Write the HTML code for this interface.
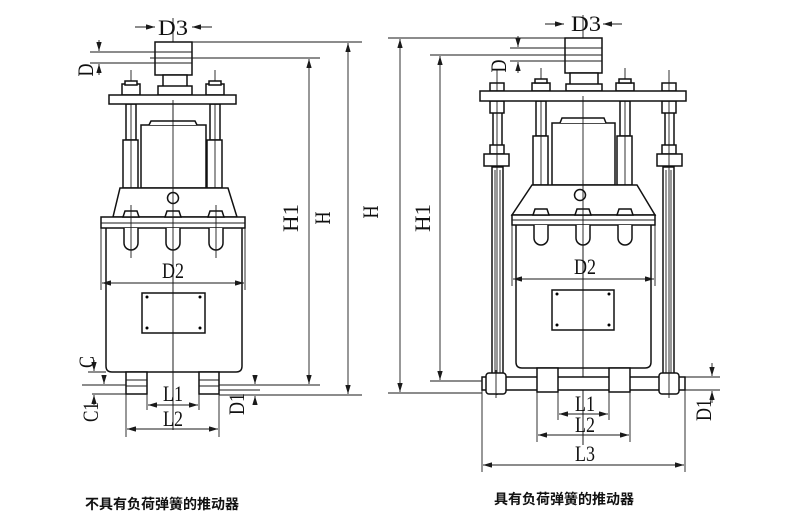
<!DOCTYPE html>
<html><head><meta charset="utf-8"><style>
html,body{margin:0;padding:0;background:#fff;width:790px;height:521px;overflow:hidden}
svg{display:block}
.l{stroke:#111;stroke-width:1.5;fill:none}
.t{stroke:#1a1a1a;stroke-width:0.9;fill:none}
.w{stroke:#111;stroke-width:1.5;fill:#fff}
.tx{font-family:"Liberation Serif",serif;font-size:22px;fill:#111}
.cap{font-family:"Liberation Sans","Noto Sans CJK SC",sans-serif;font-size:14px;fill:#111;font-weight:bold}
</style></head><body>
<svg width="790" height="521" viewBox="0 0 790 521" xmlns="http://www.w3.org/2000/svg">
<defs><marker id="a" viewBox="0 0 10 6" refX="10" refY="3" markerWidth="10" markerHeight="6" orient="auto-start-reverse"><path d="M0,0L10,3L0,6z" fill="#1a1a1a"/></marker></defs>

<!-- LEFT FIGURE -->
<g>
<line class="t" x1="173" y1="18" x2="173" y2="430"/>
<line class="t" x1="135" y1="27" x2="155" y2="27" marker-end="url(#a)"/>
<line class="t" x1="212" y1="27" x2="192" y2="27" marker-end="url(#a)"/>
<text class="tx" x="173" y="35" text-anchor="middle" textLength="30" lengthAdjust="spacingAndGlyphs">D3</text>
<rect class="w" x="155" y="42" width="37" height="33"/>
<line class="t" x1="155" y1="52" x2="192" y2="52"/><line class="t" x1="155" y1="58" x2="192" y2="58"/><line class="t" x1="155" y1="63" x2="192" y2="63"/>
<rect class="w" x="163" y="75" width="24" height="13"/>
<rect class="w" x="158" y="86" width="34" height="9"/>
<rect class="w" x="126" y="104" width="10" height="36"/><rect class="w" x="123" y="140" width="15" height="48"/>
<rect class="w" x="210" y="104" width="10" height="36"/><rect class="w" x="207" y="140" width="15" height="48"/>
<line class="t" x1="131" y1="70" x2="131" y2="200"/><line class="t" x1="215" y1="70" x2="215" y2="200"/>
<rect class="w" x="122" y="84" width="18" height="11"/><rect class="w" x="125" y="81" width="12" height="4"/>
<rect class="w" x="206" y="84" width="18" height="11"/><rect class="w" x="209" y="81" width="12" height="4"/>
<rect class="w" x="109" y="95" width="127" height="9"/>
<rect class="w" x="141" y="125" width="65" height="63"/>
<path class="w" d="M149,125 L151,121 L195,121 L197,125"/>
<line class="t" x1="173" y1="100" x2="173" y2="200"/>
<path class="w" d="M120,188 L228,188 L237,217 L113,217 Z"/>
<circle class="w" cx="173" cy="198" r="5.5"/>
<rect class="w" x="101" y="217" width="144" height="11"/>
<line class="t" x1="101" y1="223" x2="245" y2="223"/>
<g class="w">
<path d="M123,217 L125,211 L137,211 L139,217 Z"/><path d="M165,217 L167,211 L179,211 L181,217 Z"/><path d="M208,217 L210,211 L222,211 L224,217 Z"/>
<path d="M124,228 L124,243 A7,7 0 0 0 138,243 L138,228"/><path d="M166,228 L166,243 A7,7 0 0 0 180,243 L180,228"/><path d="M209,228 L209,243 A7,7 0 0 0 223,243 L223,228"/>
</g>
<line class="t" x1="131" y1="205" x2="131" y2="258"/><line class="t" x1="216" y1="205" x2="216" y2="258"/>
<path class="l" d="M106,228 L106,366 Q106,372 112,372 L236,372 Q242,372 242,366 L242,228"/>
<line class="t" x1="173" y1="180" x2="173" y2="430"/>
<line class="t" x1="101" y1="228" x2="101" y2="290"/><line class="t" x1="245" y1="228" x2="245" y2="290"/>
<line class="t" x1="173" y1="283" x2="102" y2="283" marker-end="url(#a)"/><line class="t" x1="173" y1="283" x2="244" y2="283" marker-end="url(#a)"/>
<text class="tx" x="173" y="278" text-anchor="middle" textLength="22" lengthAdjust="spacingAndGlyphs">D2</text>
<rect class="l" x="142" y="293" width="63" height="40"/>
<circle cx="147" cy="297" r="1.5"/><circle cx="200" cy="297" r="1.5"/><circle cx="147" cy="328" r="1.5"/><circle cx="200" cy="328" r="1.5"/>
<rect class="w" x="126" y="372" width="21" height="22"/><rect class="w" x="199" y="372" width="20" height="22"/>
<line class="t" x1="126" y1="380" x2="147" y2="380"/><line class="t" x1="126" y1="386" x2="147" y2="386"/>
<line class="t" x1="199" y1="380" x2="219" y2="380"/><line class="t" x1="199" y1="386" x2="219" y2="386"/>
<line class="t" x1="147" y1="394" x2="147" y2="410"/><line class="t" x1="199" y1="394" x2="199" y2="410"/>
<line class="t" x1="126" y1="394" x2="126" y2="437"/><line class="t" x1="219" y1="394" x2="219" y2="437"/>
<line class="t" x1="173" y1="405" x2="148" y2="405" marker-end="url(#a)"/><line class="t" x1="173" y1="405" x2="198" y2="405" marker-end="url(#a)"/>
<line class="t" x1="173" y1="429" x2="127" y2="429" marker-end="url(#a)"/><line class="t" x1="173" y1="429" x2="218" y2="429" marker-end="url(#a)"/>
<text class="tx" x="173" y="401" text-anchor="middle" textLength="20" lengthAdjust="spacingAndGlyphs">L1</text>
<text class="tx" x="173" y="426" text-anchor="middle" textLength="20" lengthAdjust="spacingAndGlyphs">L2</text>
<line class="t" x1="192" y1="42" x2="362" y2="42"/><line class="t" x1="150" y1="58" x2="320" y2="58"/>
<line class="t" x1="219" y1="385" x2="320" y2="385"/><line class="t" x1="219" y1="395" x2="362" y2="395"/>
<line class="t" x1="309" y1="220" x2="309" y2="59" marker-end="url(#a)"/><line class="t" x1="309" y1="220" x2="309" y2="384" marker-end="url(#a)"/>
<line class="t" x1="348" y1="220" x2="348" y2="43" marker-end="url(#a)"/><line class="t" x1="348" y1="220" x2="348" y2="394" marker-end="url(#a)"/>
<text class="tx" transform="translate(298,218) rotate(-90)" text-anchor="middle" textLength="28" lengthAdjust="spacingAndGlyphs">H1</text>
<text class="tx" transform="translate(330,218) rotate(-90)" text-anchor="middle" textLength="13" lengthAdjust="spacingAndGlyphs">H</text>
<text class="tx" transform="translate(378,212) rotate(-90)" text-anchor="middle" textLength="13" lengthAdjust="spacingAndGlyphs">H</text>
<line class="t" x1="90" y1="52" x2="155" y2="52"/><line class="t" x1="90" y1="63" x2="155" y2="63"/>
<line class="t" x1="99" y1="40" x2="99" y2="51" marker-end="url(#a)"/><line class="t" x1="99" y1="75" x2="99" y2="64" marker-end="url(#a)"/>
<text class="tx" transform="translate(93,70) rotate(-90)" text-anchor="middle" textLength="13" lengthAdjust="spacingAndGlyphs">D</text>
<line class="t" x1="88" y1="372" x2="106" y2="372"/><line class="t" x1="82" y1="385" x2="126" y2="385"/><line class="t" x1="92" y1="394" x2="126" y2="394"/>
<line class="t" x1="94" y1="360" x2="94" y2="371" marker-end="url(#a)"/>
<line class="t" x1="104" y1="376" x2="104" y2="384" marker-end="url(#a)"/>
<line class="t" x1="94" y1="405" x2="94" y2="395" marker-end="url(#a)"/>
<text class="tx" transform="translate(94,362) rotate(-90)" text-anchor="middle" textLength="12" lengthAdjust="spacingAndGlyphs">C</text>
<text class="tx" transform="translate(98,412) rotate(-90)" text-anchor="middle" textLength="20" lengthAdjust="spacingAndGlyphs">C1</text>
<line class="t" x1="219" y1="390" x2="260" y2="390"/>
<line class="t" x1="255" y1="375" x2="255" y2="384" marker-end="url(#a)"/><line class="t" x1="255" y1="405" x2="255" y2="396" marker-end="url(#a)"/>
<text class="tx" transform="translate(244,404) rotate(-90)" text-anchor="middle" textLength="22" lengthAdjust="spacingAndGlyphs">D1</text>
<text class="cap" x="85" y="509">不具有负荷弹簧的推动器</text>
</g>

<!-- RIGHT FIGURE -->
<g>
<line class="t" x1="583" y1="15" x2="583" y2="445"/>
<line class="t" x1="545" y1="24" x2="564" y2="24" marker-end="url(#a)"/>
<line class="t" x1="622" y1="24" x2="603" y2="24" marker-end="url(#a)"/>
<text class="tx" x="586" y="31" text-anchor="middle" textLength="30" lengthAdjust="spacingAndGlyphs">D3</text>
<rect class="w" x="565" y="38" width="37" height="35"/>
<line class="t" x1="565" y1="48" x2="602" y2="48"/><line class="t" x1="565" y1="55" x2="602" y2="55"/><line class="t" x1="565" y1="61" x2="602" y2="61"/>
<rect class="w" x="570" y="73" width="28" height="14"/>
<rect class="w" x="566" y="84" width="36" height="7"/>
<rect class="w" x="536" y="101" width="10" height="35"/><rect class="w" x="533" y="136" width="15" height="49"/>
<rect class="w" x="620" y="101" width="10" height="35"/><rect class="w" x="617" y="136" width="15" height="49"/>
<line class="t" x1="541" y1="68" x2="541" y2="245"/><line class="t" x1="625" y1="68" x2="625" y2="245"/>
<rect class="w" x="532" y="83" width="18" height="8"/><rect class="w" x="535" y="79" width="12" height="4"/>
<rect class="w" x="616" y="83" width="18" height="8"/><rect class="w" x="619" y="79" width="12" height="4"/>
<rect class="w" x="493" y="101" width="9" height="47"/><rect class="w" x="665" y="101" width="9" height="47"/>
<rect class="w" x="492" y="167" width="11" height="210"/><rect class="w" x="663" y="167" width="11" height="210"/>
<line class="t" x1="495" y1="170" x2="495" y2="375"/><line class="t" x1="500" y1="170" x2="500" y2="375"/>
<line class="t" x1="666" y1="170" x2="666" y2="375"/><line class="t" x1="671" y1="170" x2="671" y2="375"/>
<rect class="w" x="490" y="145" width="14" height="9"/><rect class="w" x="662" y="145" width="14" height="9"/>
<rect class="w" x="484" y="154" width="25" height="12"/><rect class="w" x="657" y="154" width="25" height="12"/>
<rect class="w" x="490" y="83" width="14" height="8"/><rect class="w" x="662" y="83" width="14" height="8"/>
<rect class="w" x="490" y="101" width="14" height="12"/><rect class="w" x="662" y="101" width="14" height="12"/>
<line class="t" x1="497" y1="70" x2="497" y2="395"/><line class="t" x1="669" y1="70" x2="669" y2="395"/>
<rect class="w" x="480" y="91" width="206" height="10"/>
<rect class="w" x="552" y="123" width="63" height="62"/>
<path class="w" d="M560,123 L562,118 L604,118 L606,123"/>
<line class="t" x1="583" y1="96" x2="583" y2="200"/>
<path class="w" d="M532,185 L637,185 L655,215 L512,215 Z"/>
<circle class="w" cx="580" cy="195" r="5.5"/>
<rect class="w" x="512" y="215" width="143" height="10"/>
<line class="t" x1="512" y1="220" x2="655" y2="220"/>
<g class="w">
<path d="M533,215 L535,209 L547,209 L549,215 Z"/><path d="M575,215 L577,209 L589,209 L591,215 Z"/><path d="M617,215 L619,209 L631,209 L633,215 Z"/>
<path d="M534,225 L534,238 A7,7 0 0 0 548,238 L548,225"/><path d="M576,225 L576,238 A7,7 0 0 0 590,238 L590,225"/><path d="M618,225 L618,238 A7,7 0 0 0 632,238 L632,225"/>
</g>
<path class="l" d="M516,225 L516,362 Q516,368 522,368 L645,368 Q651,368 651,362 L651,225"/>
<line class="t" x1="583" y1="180" x2="583" y2="445"/>
<line class="t" x1="512" y1="225" x2="512" y2="286"/><line class="t" x1="655" y1="225" x2="655" y2="286"/>
<line class="t" x1="583" y1="279" x2="513" y2="279" marker-end="url(#a)"/><line class="t" x1="583" y1="279" x2="654" y2="279" marker-end="url(#a)"/>
<text class="tx" x="585" y="274" text-anchor="middle" textLength="22" lengthAdjust="spacingAndGlyphs">D2</text>
<rect class="l" x="552" y="290" width="62" height="40"/>
<circle cx="557" cy="294" r="1.5"/><circle cx="609" cy="294" r="1.5"/><circle cx="557" cy="325" r="1.5"/><circle cx="609" cy="325" r="1.5"/>
<rect class="w" x="482" y="377" width="203" height="13"/>
<rect class="w" x="537" y="368" width="21" height="24"/><rect class="w" x="609" y="368" width="21" height="24"/>
<rect class="w" x="486" y="373" width="20" height="21" rx="3"/><rect class="w" x="659" y="373" width="20" height="21" rx="3"/>
<line class="t" x1="496" y1="370" x2="496" y2="398"/><line class="t" x1="669" y1="370" x2="669" y2="398"/>
<line class="t" x1="558" y1="392" x2="558" y2="420"/><line class="t" x1="609" y1="392" x2="609" y2="420"/>
<line class="t" x1="537" y1="392" x2="537" y2="442"/><line class="t" x1="630" y1="392" x2="630" y2="442"/>
<line class="t" x1="482" y1="390" x2="482" y2="472"/><line class="t" x1="685" y1="390" x2="685" y2="472"/>
<line class="t" x1="583" y1="414" x2="559" y2="414" marker-end="url(#a)"/><line class="t" x1="583" y1="414" x2="608" y2="414" marker-end="url(#a)"/>
<line class="t" x1="583" y1="435" x2="538" y2="435" marker-end="url(#a)"/><line class="t" x1="583" y1="435" x2="629" y2="435" marker-end="url(#a)"/>
<line class="t" x1="583" y1="465" x2="483" y2="465" marker-end="url(#a)"/><line class="t" x1="583" y1="465" x2="684" y2="465" marker-end="url(#a)"/>
<text class="tx" x="585" y="411" text-anchor="middle" textLength="20" lengthAdjust="spacingAndGlyphs">L1</text>
<text class="tx" x="585" y="432" text-anchor="middle" textLength="20" lengthAdjust="spacingAndGlyphs">L2</text>
<text class="tx" x="585" y="461" text-anchor="middle" textLength="20" lengthAdjust="spacingAndGlyphs">L3</text>
<line class="t" x1="388" y1="38" x2="565" y2="38"/><line class="t" x1="430" y1="55" x2="565" y2="55"/>
<line class="t" x1="430" y1="381" x2="482" y2="381"/><line class="t" x1="388" y1="393" x2="482" y2="393"/>
<line class="t" x1="400" y1="210" x2="400" y2="39" marker-end="url(#a)"/><line class="t" x1="400" y1="210" x2="400" y2="392" marker-end="url(#a)"/>
<line class="t" x1="440" y1="218" x2="440" y2="56" marker-end="url(#a)"/><line class="t" x1="440" y1="218" x2="440" y2="380" marker-end="url(#a)"/>
<text class="tx" transform="translate(430,218) rotate(-90)" text-anchor="middle" textLength="28" lengthAdjust="spacingAndGlyphs">H1</text>
<line class="t" x1="510" y1="48" x2="565" y2="48"/><line class="t" x1="510" y1="61" x2="565" y2="61"/>
<line class="t" x1="518" y1="36" x2="518" y2="47" marker-end="url(#a)"/><line class="t" x1="518" y1="73" x2="518" y2="62" marker-end="url(#a)"/>
<text class="tx" transform="translate(506,66) rotate(-90)" text-anchor="middle" textLength="13" lengthAdjust="spacingAndGlyphs">D</text>
<line class="t" x1="685" y1="377" x2="720" y2="377"/><line class="t" x1="685" y1="390" x2="720" y2="390"/>
<line class="t" x1="712" y1="363" x2="712" y2="376" marker-end="url(#a)"/><line class="t" x1="712" y1="403" x2="712" y2="391" marker-end="url(#a)"/>
<text class="tx" transform="translate(711,410) rotate(-90)" text-anchor="middle" textLength="22" lengthAdjust="spacingAndGlyphs">D1</text>
<text class="cap" x="494" y="504">具有负荷弹簧的推动器</text>
</g>
</svg>
</body></html>
